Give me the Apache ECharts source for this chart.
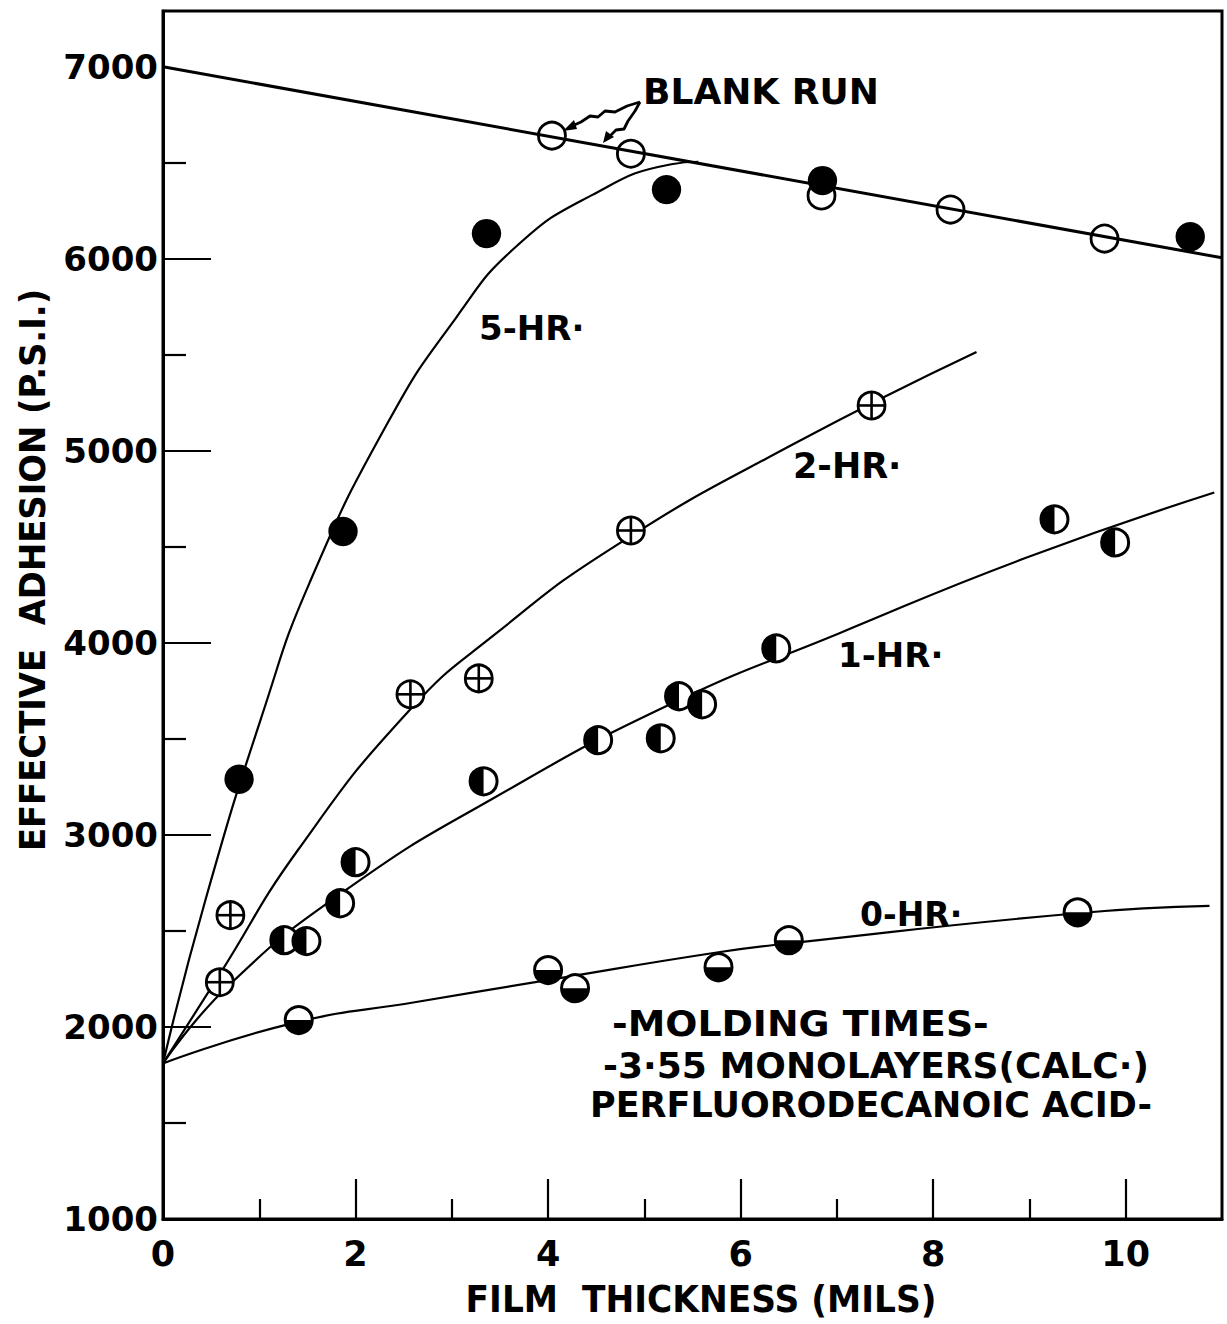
<!DOCTYPE html>
<html>
<head>
<meta charset="utf-8">
<title>Effective adhesion vs film thickness</title>
<script src="https://cdn.jsdelivr.net/npm/echarts@6/dist/echarts.min.js"></script>
<style>
  html, body { margin: 0; padding: 0; background: #fff; }
  #chart { width: 1227px; height: 1324px; }
</style>
</head>
<body>
<div id="chart"></div>
<script>
// Axis ticks
const xTicks = [0, 2, 4, 6, 8, 10];
const xMinorTicks = [1, 3, 5, 7, 9];
const yTicks = [1000, 2000, 3000, 4000, 5000, 6000, 7000];
const yMinorTicks = [1500, 2500, 3500, 4500, 5500, 6500];

// Measured points [film thickness (mils), effective adhesion (p.s.i.)]
const blankRunPts = [[4.04, 6641], [4.86, 6547], [6.84, 6329], [8.18, 6256], [9.78, 6105]];
const hr5Pts = [[0.79, 3290], [1.87, 4580], [3.36, 6131], [5.23, 6360], [6.85, 6407], [10.67, 6115]];
const hr2Pts = [[0.59, 2233], [0.70, 2582], [2.57, 3732], [3.28, 3815], [4.86, 4585], [7.36, 5236]];
const hr1Pts = [[1.26, 2452], [1.49, 2447], [1.84, 2644], [2.00, 2858], [3.33, 3279], [4.52, 3493],
                [5.17, 3503], [5.36, 3722], [5.60, 3680], [6.37, 3971], [9.26, 4643], [9.89, 4523]];
const hr0Pts = [[1.41, 2036], [4.00, 2296], [4.28, 2202], [5.77, 2311], [6.50, 2452], [9.50, 2597]];

// Hand-faired curves through each set
const blankRunCurve = [[0, 7000], [11, 6005]];
const hr5Curve = [[0, 1810], [0.44, 2660], [1.04, 3640], [1.52, 4310], [2.35, 5160], [3.04, 5690],
                  [3.66, 6060], [4.45, 6330], [5.28, 6492], [5.56, 6505]];
const hr2Curve = [[0, 1810], [0.59, 2275], [1.40, 2920], [2.56, 3649], [3.45, 4045], [4.70, 4505],
                  [6.53, 5030], [8.45, 5515]];
const hr1Curve = [[0, 1810], [0.69, 2220], [1.92, 2720], [3.45, 3196], [5.29, 3685], [7.02, 4049],
                  [8.95, 4440], [10.92, 4783]];
const hr0Curve = [[0, 1810], [1.35, 2020], [2.63, 2130], [4.01, 2245], [5.77, 2389], [6.52, 2436],
                  [9.50, 2592], [10.87, 2630]];

const FONT = 'DejaVu Sans';
const X_MAX = 11;
const Y_MIN = 1000;
const Y_MAX = 7290;
const GRID = { left: 163, right: 5, top: 11, bottom: 105 };

const chart = echarts.init(document.getElementById('chart'), null, {
  renderer: 'svg', width: 1227, height: 1324
});

// Circle markers: open, solid, crossed, half-solid (left or bottom)
function markerSeries(name, pts, kind) {
  return {
    name: name,
    type: 'custom',
    coordinateSystem: 'cartesian2d',
    xAxisIndex: 0,
    yAxisIndex: 0,
    z: 5,
    clip: false,
    silent: true,
    data: pts,
    renderItem: function (params, api) {
      const p = api.coord([api.value(0), api.value(1)]);
      const r = 13.5;
      const ink = '#000';
      const kids = [];
      if (kind === 'solid') {
        kids.push({ type: 'circle', shape: { cx: p[0], cy: p[1], r: r + 1.2 }, style: { fill: ink } });
      } else if (kind === 'open') {
        kids.push({ type: 'circle', shape: { cx: p[0], cy: p[1], r: r }, style: { fill: 'none', stroke: ink, lineWidth: 2.8 } });
      } else if (kind === 'cross') {
        kids.push({ type: 'circle', shape: { cx: p[0], cy: p[1], r: r }, style: { fill: '#fff', stroke: ink, lineWidth: 2.8 } });
        kids.push({ type: 'line', shape: { x1: p[0] - r, y1: p[1], x2: p[0] + r, y2: p[1] }, style: { stroke: ink, lineWidth: 2.6 } });
        kids.push({ type: 'line', shape: { x1: p[0], y1: p[1] - r, x2: p[0], y2: p[1] + r }, style: { stroke: ink, lineWidth: 2.6 } });
      } else {
        const a0 = kind === 'halfLeft' ? Math.PI / 2 : 0;
        kids.push({ type: 'circle', shape: { cx: p[0], cy: p[1], r: r }, style: { fill: '#fff' } });
        kids.push({ type: 'sector', shape: { cx: p[0], cy: p[1], r0: 0, r: r, startAngle: a0, endAngle: a0 + Math.PI, clockwise: true }, style: { fill: ink } });
        kids.push({ type: 'circle', shape: { cx: p[0], cy: p[1], r: r }, style: { fill: 'none', stroke: ink, lineWidth: 3 } });
      }
      return { type: 'group', children: kids };
    }
  };
}

function curveSeries(name, pts, width, smooth) {
  return {
    name: name,
    type: 'line',
    data: pts,
    symbol: 'none',
    showSymbol: false,
    smooth: smooth,
    silent: true,
    z: 2,
    lineStyle: { color: '#000', width: width }
  };
}

const tickLine = { color: '#000', width: 2.2 };
const boldFont = function (size) { return 'bold ' + size + 'px "' + FONT + '"'; };

function plainNumber(v) { return String(v); }

const option = {
  animation: false,
  backgroundColor: '#fff',
  textStyle: { fontFamily: FONT, color: '#000' },
  grid: [
    Object.assign({ show: true, borderColor: '#000', borderWidth: 3, backgroundColor: 'transparent' }, GRID),
    Object.assign({ show: false }, GRID)
  ],
  xAxis: [
    {
      gridIndex: 0, type: 'value', min: 0, max: X_MAX, interval: 2,
      axisLine: { show: true, onZero: false, lineStyle: { color: '#000', width: 3 } },
      axisTick: { show: true, inside: true, length: 40, customValues: xTicks.filter(v => v > 0), lineStyle: tickLine },
      axisLabel: { customValues: xTicks, formatter: plainNumber, margin: 17, color: '#000', fontSize: 35, fontWeight: 'bold', fontFamily: FONT },
      splitLine: { show: false }
    },
    {
      gridIndex: 1, type: 'value', min: 0, max: X_MAX, interval: 1,
      axisLine: { show: false },
      axisTick: { show: true, inside: true, length: 20, customValues: xMinorTicks, lineStyle: tickLine },
      axisLabel: { show: false },
      splitLine: { show: false }
    }
  ],
  yAxis: [
    {
      gridIndex: 0, type: 'value', min: Y_MIN, max: Y_MAX, interval: 1000,
      axisLine: { show: true, onZero: false, lineStyle: { color: '#000', width: 3 } },
      axisTick: { show: true, inside: true, length: 48, customValues: yTicks.filter(v => v > Y_MIN && v < 7000), lineStyle: tickLine },
      axisLabel: { customValues: yTicks, formatter: plainNumber, margin: 5, color: '#000', fontSize: 34, fontWeight: 'bold', fontFamily: FONT },
      splitLine: { show: false }
    },
    {
      gridIndex: 1, type: 'value', min: Y_MIN, max: Y_MAX, interval: 500,
      axisLine: { show: false },
      axisTick: { show: true, inside: true, length: 23, customValues: yMinorTicks, lineStyle: tickLine },
      axisLabel: { show: false },
      splitLine: { show: false }
    }
  ],
  series: [
    curveSeries('blank-line', blankRunCurve, 3, false),
    curveSeries('5-hr-line', hr5Curve, 2.2, 0.5),
    curveSeries('2-hr-line', hr2Curve, 2.2, 0.5),
    curveSeries('1-hr-line', hr1Curve, 2.2, 0.5),
    curveSeries('0-hr-line', hr0Curve, 2.2, 0.5),
    markerSeries('blank', blankRunPts, 'open'),
    markerSeries('5-hr', hr5Pts, 'solid'),
    markerSeries('2-hr', hr2Pts, 'cross'),
    markerSeries('1-hr', hr1Pts, 'halfLeft'),
    markerSeries('0-hr', hr0Pts, 'halfBottom')
  ],
  graphic: [
    // axis titles
    { type: 'text', x: 33, y: 570, rotation: Math.PI / 2, scaleX: 0.94,
      style: { text: 'EFFECTIVE  ADHESION (P.S.I.)', font: boldFont(36), fill: '#000', align: 'center', verticalAlign: 'middle' } },
    { type: 'text', x: 701, y: 1299, scaleX: 0.93,
      style: { text: 'FILM  THICKNESS (MILS)', font: boldFont(37), fill: '#000', align: 'center', verticalAlign: 'middle' } },
    // curve labels
    { type: 'text', x: 643, y: 91,
      style: { text: 'BLANK RUN', font: boldFont(36), fill: '#000', align: 'left', verticalAlign: 'middle' } },
    { type: 'text', x: 479, y: 328,
      style: { text: '5-HR·', font: boldFont(34), fill: '#000', align: 'left', verticalAlign: 'middle' } },
    { type: 'text', x: 793, y: 466,
      style: { text: '2-HR·', font: boldFont(35), fill: '#000', align: 'left', verticalAlign: 'middle' } },
    { type: 'text', x: 838, y: 655,
      style: { text: '1-HR·', font: boldFont(34), fill: '#000', align: 'left', verticalAlign: 'middle' } },
    { type: 'text', x: 860, y: 914,
      style: { text: '0-HR·', font: boldFont(33), fill: '#000', align: 'left', verticalAlign: 'middle' } },
    // notes
    { type: 'text', x: 612, y: 1024, scaleX: 1.08,
      style: { text: '-MOLDING TIMES-', font: boldFont(35), fill: '#000', align: 'left', verticalAlign: 'middle' } },
    { type: 'text', x: 603, y: 1066, scaleX: 1.03,
      style: { text: '-3·55 MONOLAYERS(CALC·)', font: boldFont(35), fill: '#000', align: 'left', verticalAlign: 'middle' } },
    { type: 'text', x: 590, y: 1105,
      style: { text: 'PERFLUORODECANOIC ACID-', font: boldFont(35), fill: '#000', align: 'left', verticalAlign: 'middle' } },
    // pointer from the BLANK RUN label to its circles
    { type: 'polyline', silent: true,
      shape: { points: [[640, 102], [627, 106], [615, 112], [605, 111], [598, 117], [590, 116], [581, 122], [572, 126]] },
      style: { fill: 'none', stroke: '#000', lineWidth: 2.8, lineJoin: 'round' } },
    { type: 'polygon', silent: true,
      shape: { points: [[563, 131], [574, 120], [577, 129]] }, style: { fill: '#000' } },
    { type: 'polyline', silent: true,
      shape: { points: [[640, 102], [635, 111], [628, 121], [624, 129], [616, 130], [610, 136]] },
      style: { fill: 'none', stroke: '#000', lineWidth: 2.8, lineJoin: 'round' } },
    { type: 'polygon', silent: true,
      shape: { points: [[603, 143], [606, 131], [614, 137]] }, style: { fill: '#000' } }
  ]
};

chart.setOption(option);
</script>
</body>
</html>
